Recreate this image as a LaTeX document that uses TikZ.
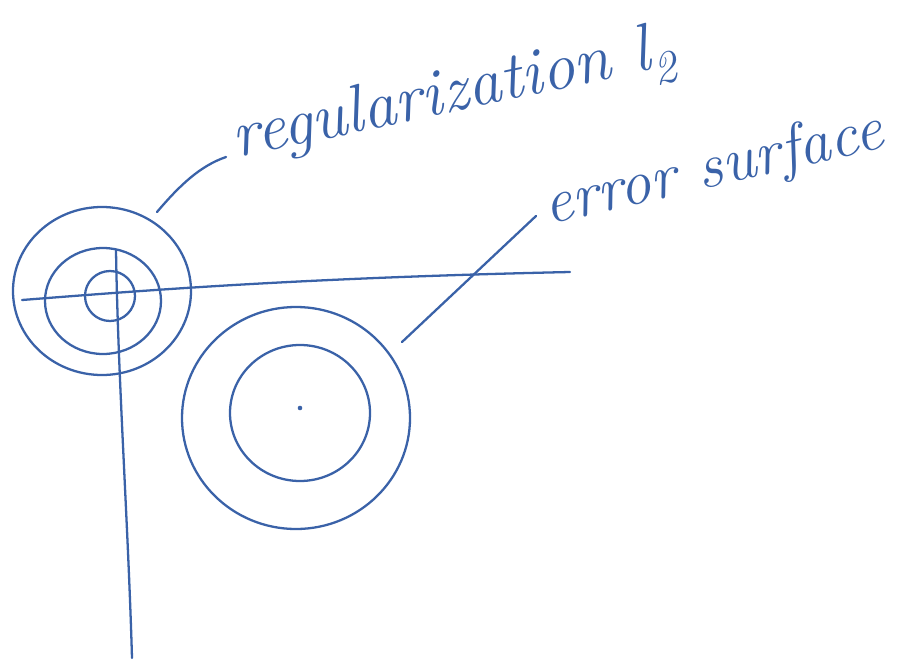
\documentclass[tikz,border=0pt]{standalone}
\usetikzlibrary{shapes.geometric}
\begin{document}
\begin{tikzpicture}[x=0.02cm,y=-0.02cm,
  ink/.style={draw=inkblue,line width=1.3pt,line cap=round,line join=round},
  lbl/.style={text=inkblue,inner sep=0pt}]
\definecolor{inkblue}{HTML}{3A62A8}
\useasboundingbox (0,0) rectangle (908,662);
% axes
\coordinate (hl) at (22,300);
\coordinate (hr) at (570,272);
\coordinate (vt) at (116,250);
\coordinate (vb) at (132,658);
\draw[ink] (hl) .. controls (150,290) and (300,278) .. (hr);
\draw[ink] (vt) .. controls (118,380) and (128,520) .. (vb);
% regularization contours
\node[ink,ellipse,minimum width=178*0.02cm,minimum height=168*0.02cm,inner sep=0pt] (r1) at (102,291) {};
\node[ink,ellipse,minimum width=116*0.02cm,minimum height=106*0.02cm,inner sep=0pt] (r2) at (103,301) {};
\node[ink,circle,minimum size=50*0.02cm,inner sep=0pt] (r3) at (110,296) {};
% error contours
\node[ink,ellipse,minimum width=228*0.02cm,minimum height=222*0.02cm,inner sep=0pt] (e1) at (296,418) {};
\node[ink,ellipse,minimum width=140*0.02cm,minimum height=136*0.02cm,inner sep=0pt] (e2) at (300,413) {};
\fill[inkblue] (300,408) circle (1.3pt) coordinate (min);
% labels
\node[lbl,font=\fontsize{38}{40}\selectfont\itshape,rotate=12,anchor=base west] (reg) at (236,158) {regularization l\textsubscript{2}};
\node[lbl,font=\fontsize{36}{38}\selectfont\itshape,rotate=13,anchor=base west] (err) at (548,225) {error surface};
\coordinate (regend) at (226,157);
\coordinate (errend) at (536,216);
\draw[ink] (157,212) .. controls (180,185) and (200,166) .. (regend);
\draw[ink] (402,342) -- (errend);
\end{tikzpicture}
\end{document}
